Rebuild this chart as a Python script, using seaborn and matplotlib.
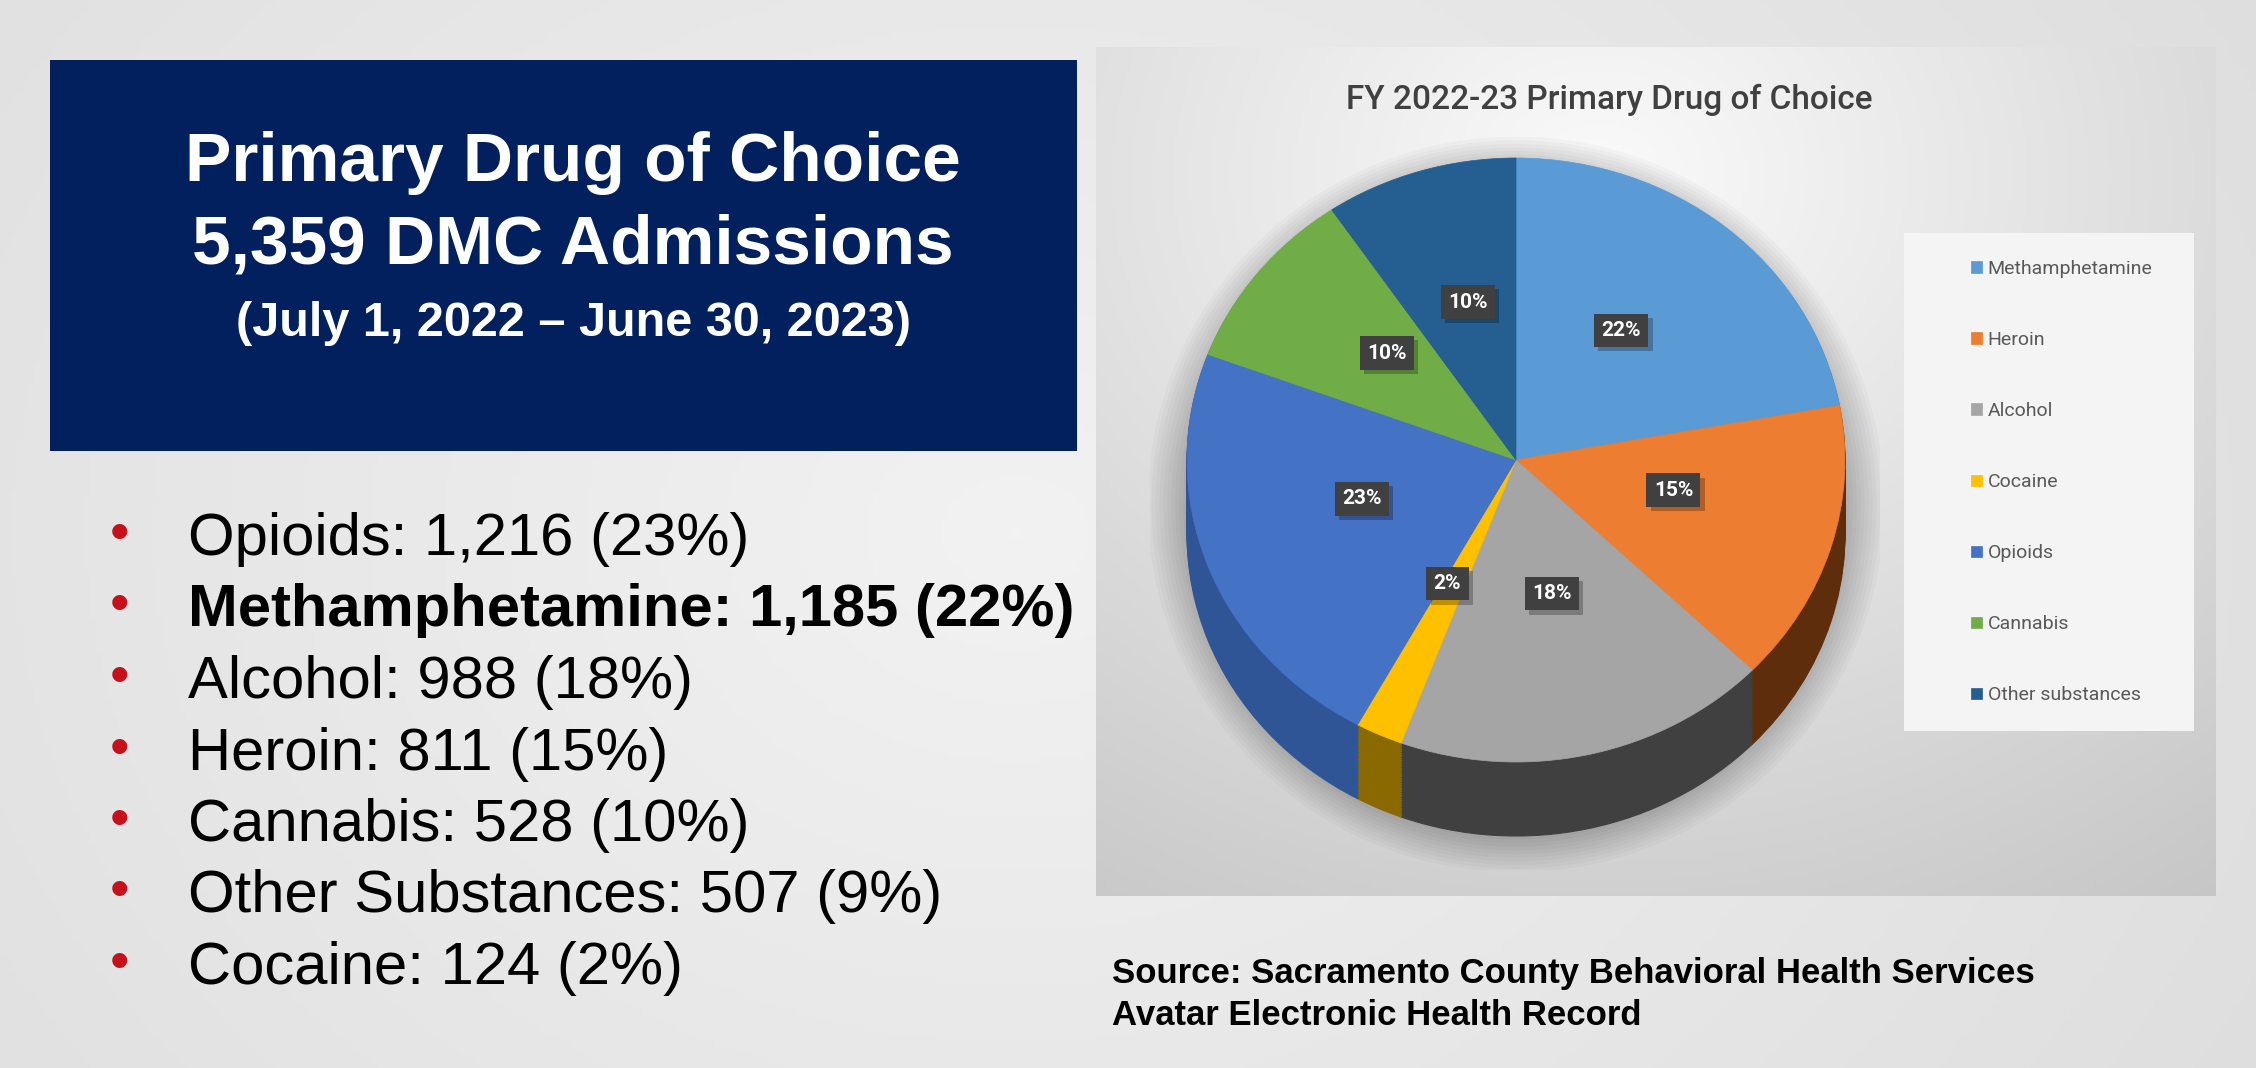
import numpy as np
import matplotlib
matplotlib.use('Agg')
import matplotlib.pyplot as plt
import matplotlib.colors as mcolors
import matplotlib.patheffects as pe
from matplotlib.patches import Rectangle, Ellipse
import seaborn as sns

# Data
drugs = ['Methamphetamine', 'Heroin', 'Alcohol', 'Cocaine', 'Opioids', 'Cannabis', 'Other substances']
admissions = [1185, 811, 988, 124, 1216, 528, 507]
pie_labels = ['22%', '15%', '18%', '2%', '23%', '10%', '10%']
pie_colors = ['#5B9BD5', '#ED7D31', '#A5A5A5', '#FFC000', '#4472C4', '#70AD47', '#255E91']
side_colors = ['#2e5f8c', '#5e2e0c', '#404040', '#8a6a00', '#2f5597', '#4a7530', '#173b5c']

header = ['Primary Drug of Choice', '5,359 DMC Admissions', '(July 1, 2022 \u2013 June 30, 2023)']
bullet_lines = ['Opioids: 1,216 (23%)', 'Methamphetamine: 1,185 (22%)', 'Alcohol: 988 (18%)',
                'Heroin: 811 (15%)', 'Cannabis: 528 (10%)', 'Other Substances: 507 (9%)',
                'Cocaine: 124 (2%)']
bold_line = 1
chart_title = 'FY 2022-23 Primary Drug of Choice'
source_lines = ['Source: Sacramento County Behavioral Health Services', 'Avatar Electronic Health Record']

sns.set_theme(style='white')
plt.rcParams['font.family'] = ['Liberation Sans', 'DejaVu Sans']
narrow = ['Liberation Sans Narrow', 'Roboto', 'DejaVu Sans']

W, H = 2256, 1068
fig = plt.figure(figsize=(W / 100, H / 100), dpi=100)


def box(x0, y0, x1, y1):
    # pixel box with top-left origin -> figure rect
    return [x0 / W, 1 - y1 / H, (x1 - x0) / W, (y1 - y0) / H]


def fy(y):
    return 1 - y / H


# page background
bg = fig.add_axes([0, 0, 1, 1], zorder=0)
yy, xx = np.mgrid[0:1:200j, 0:1:400j]
rr = np.sqrt((xx - 0.45) ** 2 + ((yy - 0.5) * 0.6) ** 2)
bg.imshow(rr, cmap=mcolors.LinearSegmentedColormap.from_list('bg', ['#f2f2f2', '#dcdcdc']),
          aspect='auto', extent=[0, 1, 0, 1], vmin=0, vmax=0.7)
bg.set_xlim(0, 1)
bg.set_ylim(0, 1)
bg.axis('off')

# navy header box
bg.add_patch(Rectangle((50 / W, fy(451)), 1027 / W, 391 / H, transform=fig.transFigure,
                       facecolor='#03205e', edgecolor='none'))
fig.text(573 / W, fy(181), header[0], ha='center', va='baseline', color='white',
         fontsize=50, fontweight='bold')
fig.text(573 / W, fy(263), header[1], ha='center', va='baseline', color='white',
         fontsize=50, fontweight='bold')
fig.text(573 / W, fy(336), header[2], ha='center', va='baseline', color='white',
         fontsize=35, fontweight='bold')

# bullet list
for i, line in enumerate(bullet_lines):
    base = 555 + i * 71.5
    fig.text(119 / W, fy(base - 5), '\u2022', ha='center', va='baseline', color='#c8101a', fontsize=40)
    fig.text(188 / W, fy(base), line, ha='left', va='baseline', color='black', fontsize=43,
             fontweight='bold' if i == bold_line else 'normal')

# source note
for i, line in enumerate(source_lines):
    fig.text(1112 / W, fy(983 + i * 42), line, ha='left', va='baseline', color='black',
             fontsize=25, fontweight='bold')

# chart panel with gradient
panel = fig.add_axes(box(1096, 47, 2216, 896), zorder=1)
py, px = np.mgrid[0:1:200j, 0:1:300j]
pr = np.sqrt((px - 0.45) ** 2 + ((py - 0.15) * 0.9) ** 2)
panel.imshow(pr, cmap=mcolors.LinearSegmentedColormap.from_list('pn', ['#fafafa', '#c6c6c6']),
             aspect='auto', extent=[0, 1, 0, 1], origin='upper', vmin=0, vmax=0.95)
panel.axis('off')
fig.text(1609 / W, fy(109), chart_title, ha='center', va='baseline', color='#404040',
         fontsize=24, fontweight='medium', family=narrow)

# legend background
bg_leg = Rectangle((1904 / W, fy(731)), 290 / W, 498 / H, transform=fig.transFigure,
                   facecolor='#f4f4f4', edgecolor='none', zorder=2)
fig.patches.append(bg_leg)

# 3D-looking pie: stack darker copies below the top face
# pie box in pixels: centre (1516, 460), radii 329 x 302
cx, cy, rx, ry = 1516, 460, 329, 302
pax = fig.add_axes(box(1150, 130, 1880, 870), zorder=3)
pax.patch.set_alpha(0)
depth = 74 / ry

# soft shadow around the pie body
for k in range(10):
    s = 1.0 + 0.012 * (k + 1)
    pax.add_patch(Ellipse((0.0, -depth * 0.6), 2 * s, 2 * s + depth * 0.8, facecolor='black',
                          edgecolor='none', alpha=0.022, zorder=0))

for d in np.linspace(depth, 0.005, 30):
    ws, _ = pax.pie(admissions, colors=side_colors, startangle=90, counterclock=False,
                    center=(0, -d), wedgeprops=dict(linewidth=0))
    for w in ws:
        w.set_edgecolor(w.get_facecolor())
        w.set_linewidth(0.8)

wedges, _ = pax.pie(admissions, colors=pie_colors, startangle=90, counterclock=False,
                    wedgeprops=dict(linewidth=0))
for w in wedges:
    w.set_edgecolor(w.get_facecolor())
    w.set_linewidth(0.5)

for w, lab in zip(wedges, pie_labels):
    ang = np.deg2rad((w.theta1 + w.theta2) / 2)
    lx, ly = 0.5 * np.cos(ang), 0.5 * np.sin(ang) + 0.045
    t = pax.text(lx, ly, lab, ha='center', va='center', zorder=10,
                 color='white', fontsize=15, fontweight='bold', family=narrow,
                 bbox=dict(boxstyle='square,pad=0.35', fc='#404040', ec='none'))
    t.get_bbox_patch().set_path_effects([
        pe.SimplePatchShadow(offset=(3, -3), shadow_rgbFace='black', alpha=0.25), pe.Normal()])

pax.set_aspect('auto')
pax.set_xlim((1150 - cx) / rx, (1880 - cx) / rx)
pax.set_ylim((cy - 870) / ry, (cy - 130) / ry)
pax.axis('off')

leg = pax.legend(wedges, drugs, loc='upper left', bbox_to_anchor=(1971 / W, fy(260)),
                 bbox_transform=fig.transFigure, frameon=False, borderpad=0, borderaxespad=0,
                 handlelength=0.55, handleheight=0.55, handletextpad=0.3, labelspacing=2.73,
                 prop=dict(family=narrow, size=14))
for t in leg.get_texts():
    t.set_color('#595959')

fig.savefig('out.png', dpi=100)
